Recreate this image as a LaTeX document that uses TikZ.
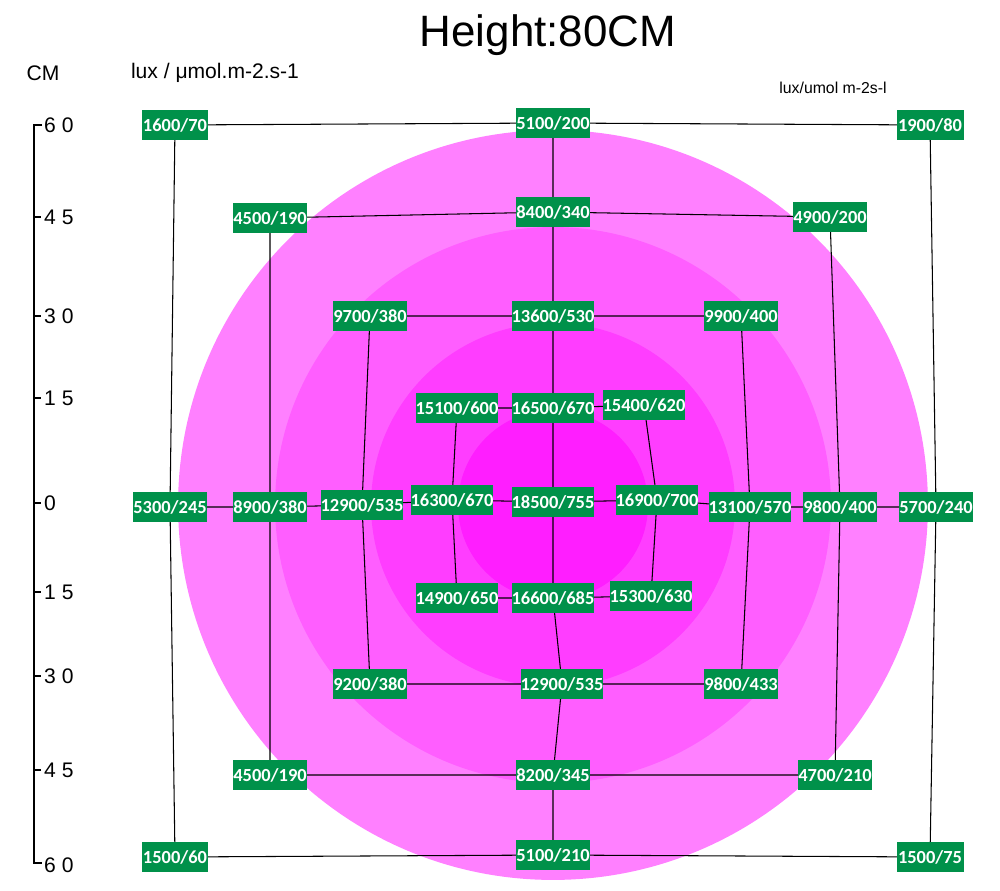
\documentclass[tikz,border=0pt]{standalone}
\usepackage{fontspec}
\setmainfont{Liberation Sans}
\newfontfamily\boxfont{Carlito}
\usetikzlibrary{calc}
\pgfdeclarelayer{circ}\pgfdeclarelayer{lines}
\pgfsetlayers{circ,lines,main}
\begin{document}
\begin{tikzpicture}[x=0.02cm,y=-0.02cm,
  bx/.style={fill=boxgreen,text=white,font=\boxfont\bfseries\fontsize{10.5}{12}\selectfont,inner sep=0pt,minimum width=1.34cm,minimum height=0.6cm},
  ln/.style={draw=black,line width=0.6pt},
  ax/.style={font=\fontsize{12}{14}\selectfont,anchor=west}]
\definecolor{boxgreen}{HTML}{00914A}
\definecolor{c1}{HTML}{FF80FF}\definecolor{c2}{HTML}{FF5EFF}
\definecolor{c3}{HTML}{FF3DFF}\definecolor{c4}{HTML}{FF1EFF}
\useasboundingbox (0,0) rectangle (1000,891);
\begin{pgfonlayer}{circ}
\fill[c1] (553,505) circle[radius=7.5cm];
\fill[c2] (553,505) circle[radius=5.56cm];
\fill[c3] (553,505) circle[radius=3.64cm];
\fill[c4] (553,505) circle[radius=1.9cm];
\end{pgfonlayer}
\node[bx] (a1) at (175,125) {1600/70};
\node[bx] (a2) at (553,123) {5100/200};
\node[bx] (a3) at (930,125) {1900/80};
\node[bx] (b1) at (270,218) {4500/190};
\node[bx] (b2) at (553,212) {8400/340};
\node[bx] (b3) at (830,217) {4900/200};
\node[bx] (c1n) at (370,316) {9700/380};
\node[bx] (c2n) at (553,316) {13600/530};
\node[bx] (c3n) at (741,316) {9900/400};
\node[bx] (d1) at (457,408) {15100/600};
\node[bx] (d2) at (553,408) {16500/670};
\node[bx] (d3) at (644,405) {15400/620};
\node[bx] (e1) at (170,507) {5300/245};
\node[bx] (e2) at (270,507) {8900/380};
\node[bx] (e3) at (362,505) {12900/535};
\node[bx] (e4) at (452,500) {16300/670};
\node[bx] (e5) at (553,502) {18500/755};
\node[bx] (e6) at (657,500) {16900/700};
\node[bx] (e7) at (750,507) {13100/570};
\node[bx] (e8) at (840,507) {9800/400};
\node[bx] (e9) at (936,507) {5700/240};
\node[bx] (f1) at (457,598) {14900/650};
\node[bx] (f2) at (553,598) {16600/685};
\node[bx] (f3) at (651,596) {15300/630};
\node[bx] (g1) at (370,684) {9200/380};
\node[bx] (g2) at (562,684) {12900/535};
\node[bx] (g3) at (741,684) {9800/433};
\node[bx] (h1) at (270,775) {4500/190};
\node[bx] (h2) at (553,775) {8200/345};
\node[bx] (h3) at (835,775) {4700/210};
\node[bx] (i1) at (175,857) {1500/60};
\node[bx] (i2) at (553,855) {5100/210};
\node[bx] (i3) at (930,857) {1500/75};
\begin{pgfonlayer}{lines}
\draw[ln] (a1.center)--(a2.center)--(a3.center) (a1.center)--(e1.center)--(i1.center) (a3.center)--(e9.center)--(i3.center) (i1.center)--(i2.center)--(i3.center);
\draw[ln] (b1.center)--(b2.center)--(b3.center) (b1.center)--(e2.center)--(h1.center) (b3.center)--(e8.center)--(h3.center) (h1.center)--(h2.center)--(h3.center);
\draw[ln] (c1n.center)--(c2n.center)--(c3n.center) (c1n.center)--(e3.center)--(g1.center) (c3n.center)--(e7.center)--(g3.center) (g1.center)--(g2.center)--(g3.center);
\draw[ln] (d1.center)--(d2.center)--(d3.center) (d1.center)--(e4.center)--(f1.center) (d3.center)--(e6.center)--(f3.center) (f1.center)--(f2.center)--(f3.center);
\draw[ln] (e1.center)--(e2.center)--(e3.center)--(e4.center)--(e5.center)--(e6.center)--(e7.center)--(e8.center)--(e9.center);
\draw[ln] (a2.center)--(b2.center)--(c2n.center)--(d2.center)--(e5.center)--(f2.center)--(g2.center)--(h2.center)--(i2.center);
\end{pgfonlayer}
\node (title) at (548,35) {\fontsize{25}{30}\selectfont Height:80CM};
\node[font=\fontsize{12}{14}\selectfont] (cm) at (43,73) {CM};
\node[font=\fontsize{12}{14}\selectfont] (unit) at (215,73) {lux / μmol.m-2.s-1};
\node[font=\fontsize{9}{11}\selectfont] (unit2) at (833,88) {lux/umol m-2s-l};
\coordinate (t0) at (34,125); \coordinate (t1) at (34,863);
\draw[line width=0.9pt] ($(t0)+(8,0)$) -- (t0) -- (t1) -- ($(t1)+(8,0)$);
\foreach \y/\l in {125/6 0,217/4 5,316/3 0,398/1 5,503/0,592/1 5,676/3 0,770/4 5,865/6 0}
  {\node[ax] (ax\y) at (38,\y) {\l};}
\foreach \y in {217,316,398,503,592,676,770} {\draw[line width=0.9pt] (34,\y) -- (41,\y);}
\end{tikzpicture}
\end{document}
